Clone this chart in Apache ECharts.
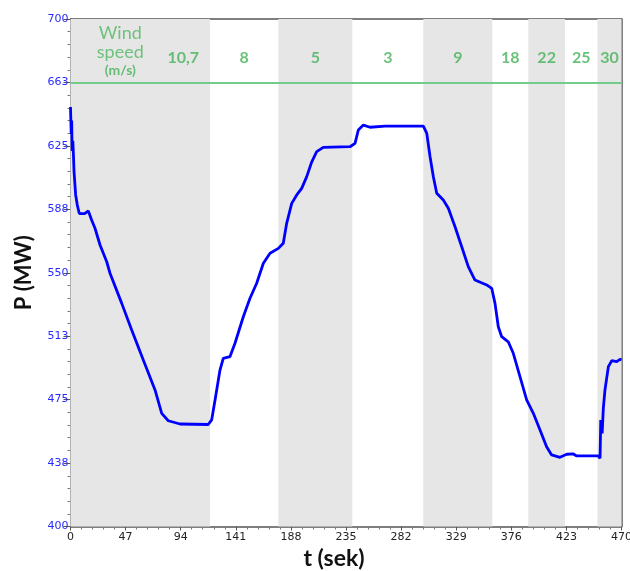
<!DOCTYPE html>
<html><head><meta charset="utf-8">
<script src="https://cdn.jsdelivr.net/npm/echarts@6/dist/echarts.min.js"></script>
<style>html,body{margin:0;padding:0;background:#fff}#c{width:630px;height:571px}</style>
</head><body><div id="c"></div><script>
// time (s) and active power (MW)
const timeSec = [0,0.6,1.0,1.4,2.0,2.6,3.0,4.4,5.8,7.5,9,12,15.2,16,18.1,20.9,25.2,30.9,33.7,43.7,52.2,62.1,72.1,77.8,83.4,93.4,117.5,120.4,123.3,127.5,130.3,136.0,140.3,147.4,153.1,158.8,164.5,170.2,177.3,181.5,184.4,188.7,193,197.2,201.5,205.8,210,215.6,238.4,242.7,245.5,249.8,255.5,268.3,301,303.9,306.7,309.5,312.4,318,322.3,328,333.7,339.3,345,355,359.3,362.1,364.9,367.8,373.4,377.7,383.4,389.1,394.8,400.5,406.1,410.4,417.5,423.3,428.9,431.8,450.2,451.7,452.3,453.5,454.5,455.9,458.8,461.7,465.9,468.7,470];
const powerMW = [648,632,640,622,628,618,610,596,590,585,585.5,585,586.5,585,581,576.3,566.4,556.5,549.7,531.9,516.2,498.4,480.7,466.9,462.5,460.6,460.3,463,474.8,492.5,499.4,500.4,508.3,524,534.9,543.8,555.6,561.5,564.4,567.4,579.2,591,596,599.9,606.8,615.6,621.6,624.1,624.5,626.5,634.4,637.3,636,636.7,636.7,632.4,618.6,606.8,597,593,588.1,577.2,565.4,553.6,545.7,542.8,540.8,531.9,518.1,512.2,509.2,502.4,488.6,474.8,466.9,457,447.2,442.3,440.9,442.7,442.9,441.7,441.7,440.3,463,455,470,480.7,494.5,498,497.4,498.8,498.5];
// wind-speed segments (s) and their wind speed labels
const segmentEdges = [0,119,177.3,240.4,300.9,359.8,390.5,421.8,449.4,470];
const windSpeeds = ['10,7','8','5','3','9','18','22','25','30'];
const headerLineValue = 662.5;
// axis scales
const xMin = 0, xMax = 470, xStep = 47;
const yMin = 400, yMax = 700, yStep = 37.5;

const series = timeSec.map((t, i) => [t, powerMW[i]]);
const bands = [];
for (let i = 0; i < windSpeeds.length; i += 2) {
  bands.push([{ xAxis: segmentEdges[i] }, { xAxis: segmentEdges[i + 1] }]);
}
const headerY = (headerLineValue + yMax) / 2;
const labelPts = windSpeeds.map((s, i) => ({
  value: [(segmentEdges[i] + segmentEdges[i + 1]) / 2, headerY],
  label: { formatter: s, offset: i === 0 ? [43, 7] : [0, 7] }
}));
labelPts.push({
  value: [(segmentEdges[0] + segmentEdges[1]) / 2, headerY],
  label: { formatter: '{a|Wind}\n{a|speed}\n{b|(m/s)}', offset: [-20, 1] }
});

const chart = echarts.init(document.getElementById('c'), null, { renderer: 'canvas' });
const axisFont = 'DejaVu Sans';
chart.setOption({
  animation: false,
  backgroundColor: '#ffffff',
  grid: { left: 70.5, right: 8.5, top: 19, bottom: 44.5, containLabel: false, outerBoundsMode: 'none' },
  xAxis: [{
    type: 'value', min: xMin, max: xMax, interval: xStep,
    name: 't (sek)', nameLocation: 'middle', nameGap: 17,
    nameTextStyle: { fontFamily: 'Lato', fontWeight: 'bold', fontSize: 23, color: '#111', padding: [0, 24, 0, 0] },
    axisLine: { show: true, lineStyle: { color: '#555', width: 1.5 } },
    axisTick: { show: true, length: 4, lineStyle: { color: '#555' } },
    minorTick: { show: true, splitNumber: 5, length: 3, lineStyle: { color: '#777' } },
    axisLabel: { fontFamily: axisFont, fontSize: 11, color: '#222', margin: 5 },
    splitLine: { show: false }
  }, {
    type: 'value', min: xMin, max: xMax, position: 'top',
    axisLine: { show: true, onZero: false, lineStyle: { color: '#555', width: 1.5 } },
    axisTick: { show: false }, axisLabel: { show: false }, splitLine: { show: false }
  }],
  yAxis: [{
    type: 'value', min: yMin, max: yMax, interval: yStep,
    name: 'P (MW)', nameLocation: 'middle', nameGap: 36, nameRotate: 90,
    nameTextStyle: { fontFamily: 'Lato', fontWeight: 'bold', fontSize: 22, color: '#111' },
    axisLine: { show: true, lineStyle: { color: '#555', width: 1.5 } },
    axisTick: { show: true, length: 7, lineStyle: { color: '#555' } },
    minorTick: { show: true, splitNumber: 5, length: 3, lineStyle: { color: '#777' } },
    axisLabel: { fontFamily: axisFont, fontSize: 11, color: '#2a2aff', margin: 2,
      padding: [0, 0, 7, 0], formatter: v => String(Math.round(v)) },
    splitLine: { show: false }
  }, {
    type: 'value', min: yMin, max: yMax, position: 'right',
    axisLine: { show: true, onZero: false, lineStyle: { color: '#555', width: 1.5 } },
    axisTick: { show: false }, axisLabel: { show: false }, splitLine: { show: false }
  }],
  series: [{
    type: 'line', data: series, z: 1, silent: true, showSymbol: false,
    lineStyle: { opacity: 0, width: 0 },
    markArea: { silent: true, itemStyle: { color: '#e6e6e6' }, data: bands },
    markLine: { silent: true, symbol: 'none', label: { show: false },
      lineStyle: { color: '#74cc8c', width: 2, type: 'solid' },
      data: [{ yAxis: headerLineValue }] }
  }, {
    type: 'line', data: series, z: 5, showSymbol: false, smooth: false,
    lineStyle: { color: '#0000ff', width: 2.8 }
  }, {
    type: 'scatter', data: labelPts, symbol: 'circle', symbolSize: 1, z: 6, silent: true,
    itemStyle: { color: 'rgba(0,0,0,0)' },
    label: { show: true, position: 'inside', color: '#45b258', fontFamily: 'Lato', fontWeight: 'bold', fontSize: 16,
      rich: {
        a: { fontFamily: 'Lato', fontSize: 18, fontWeight: 'normal', color: '#50b862', lineHeight: 19 },
        b: { fontFamily: 'Lato', fontSize: 14, fontWeight: 'bold', color: '#45b258', lineHeight: 19 }
      } }
  }]
});
</script></body></html>
